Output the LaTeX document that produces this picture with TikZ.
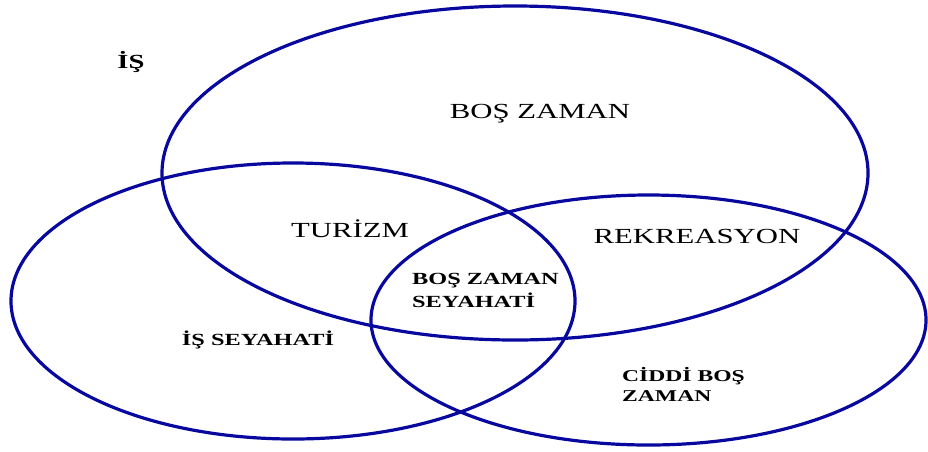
\documentclass[tikz,border=0pt]{standalone}
\usepackage{fontspec}
\setmainfont{Liberation Serif}
\newfontfamily\widefont[FakeStretch=1.43]{Liberation Serif}
\definecolor{setblue}{RGB}{8,8,158}
\tikzset{
  setline/.style={draw=setblue, line width=3.2pt},
  biglabel/.style={inner sep=0pt, font=\widefont\fontsize{21.5}{24}\selectfont},
  smalllabel/.style={inner sep=0pt, align=left, font=\widefont\bfseries\fontsize{17}{23}\selectfont}
}
\begin{document}
\begin{tikzpicture}[x=1pt,y=-1pt]
    \useasboundingbox (0,0) rectangle (928,451);

    % Sets
    \draw[setline] (515,173) ellipse [x radius=353, y radius=167];
    \draw[setline] (293,301) ellipse [x radius=282, y radius=138];
    \draw[setline] (648.5,320) ellipse [x radius=277.5, y radius=125];

    % Labels
    \node[smalllabel, font=\widefont\bfseries\fontsize{20}{24}\selectfont] (is) at (131,62) {İŞ};
    \node[biglabel] (boszaman) at (540,114) {BOŞ ZAMAN};
    \node[biglabel] (turizm) at (350,229) {TURİZM};
    \node[biglabel] (rekreasyon) at (697,236) {REKREASYON};
    \node[smalllabel, anchor=west] (seyahat) at (412,290) {BOŞ ZAMAN\\SEYAHATİ};
    \node[smalllabel] (isseyahati) at (258,340) {İŞ SEYAHATİ};
    \node[smalllabel, anchor=west, font=\widefont\bfseries\fontsize{16.5}{20}\selectfont] (ciddi) at (622,384) {CİDDİ BOŞ\\ZAMAN};
\end{tikzpicture}
\end{document}
